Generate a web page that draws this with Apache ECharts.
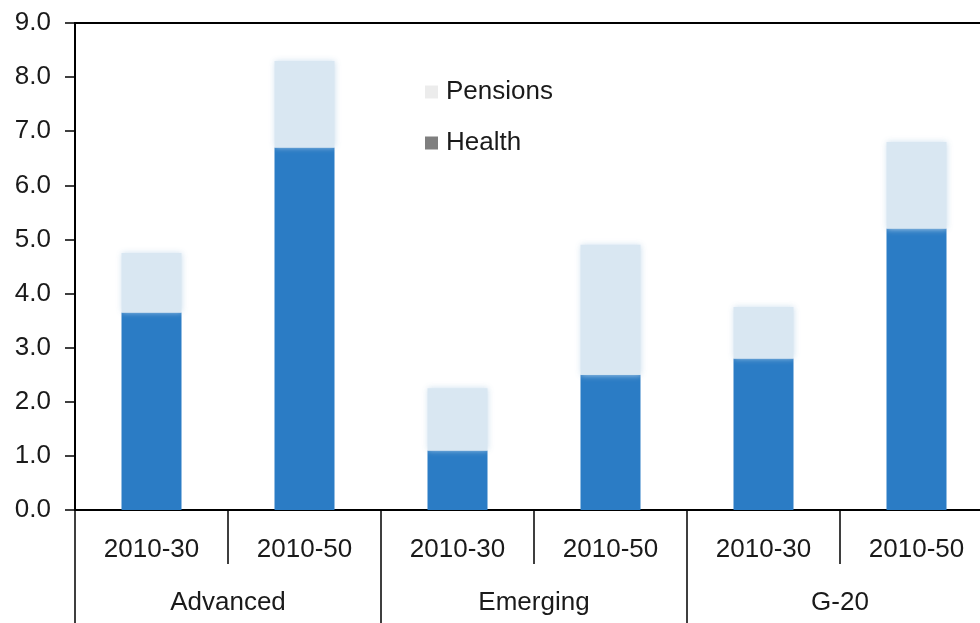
<!DOCTYPE html>
<html>
<head>
<meta charset="utf-8">
<script src="https://cdn.jsdelivr.net/npm/echarts@6/dist/echarts.min.js"></script>
<style>
  html, body { margin: 0; padding: 0; background: #ffffff; }
  #chart { width: 980px; height: 623px; }
</style>
</head>
<body>
<div id="chart"></div>
<script>
// Projected increase in health and pension spending, by period and country group
var periods = ['2010-30', '2010-50', '2010-30', '2010-50', '2010-30', '2010-50'];
var groups = ['Advanced', 'Emerging', 'G-20'];
var health = [3.65, 6.7, 1.1, 2.5, 2.8, 5.2];
var pensions = [1.1, 1.6, 1.15, 2.4, 0.95, 1.6];
var yTicks = { min: 0, max: 9, interval: 1 };

var FONT = '"Liberation Sans", Arial, sans-serif';
var TEXT = '#1a1a1a';
var HEALTH_COLOR = '#2b7cc5';
var PENSION_COLOR = '#d9e7f2';

var chart = echarts.init(document.getElementById('chart'), null, { renderer: 'canvas' });

chart.setOption({
  backgroundColor: '#ffffff',
  animation: false,
  textStyle: { fontFamily: FONT, color: TEXT },
  grid: {
    left: 75, top: 23, width: 918, height: 487,
    outerBoundsMode: 'none',
    containLabel: false,
    show: true, borderColor: '#000', borderWidth: 2, backgroundColor: 'transparent'
  },
  legend: {
    orient: 'vertical',
    left: 420, top: 74,
    itemWidth: 13, itemHeight: 13, itemGap: 25,
    icon: 'rect',
    textStyle: { fontFamily: FONT, fontSize: 26, color: TEXT, padding: [0, 0, 0, 3] },
    data: [
      { name: 'Pensions', itemStyle: { color: '#ececec' } },
      { name: 'Health', itemStyle: { color: '#7f7f7f' } }
    ]
  },
  xAxis: [
    {
      type: 'category',
      data: periods,
      position: 'bottom',
      axisLine: { show: true, lineStyle: { color: '#000', width: 2 } },
      axisTick: { show: true, length: 54, lineStyle: { color: '#000', width: 1.5 } },
      axisLabel: { margin: 27, fontSize: 26, color: TEXT, fontFamily: FONT, interval: 0 }
    },
    {
      type: 'category',
      data: groups,
      position: 'bottom',
      axisLine: { show: false },
      axisTick: { show: true, length: 116, lineStyle: { color: '#000', width: 1.5 } },
      axisLabel: { margin: 80, fontSize: 26, color: TEXT, fontFamily: FONT, interval: 0 }
    }
  ],
  yAxis: {
    type: 'value',
    min: yTicks.min, max: yTicks.max, interval: yTicks.interval,
    axisLine: { show: true, lineStyle: { color: '#000', width: 2 } },
    axisTick: { show: true, length: 10, lineStyle: { color: '#000', width: 1.5 } },
    splitLine: { show: false },
    axisLabel: {
      margin: 24, fontSize: 26, color: TEXT, fontFamily: FONT,
      formatter: function (v) { return v.toFixed(1); }
    }
  },
  series: [
    {
      name: 'Health',
      type: 'bar',
      stack: 'total',
      xAxisIndex: 0,
      barWidth: 60,
      data: health,
      itemStyle: { color: HEALTH_COLOR }
    },
    {
      name: 'Pensions',
      type: 'bar',
      stack: 'total',
      xAxisIndex: 0,
      barWidth: 60,
      data: pensions,
      itemStyle: { color: PENSION_COLOR, shadowBlur: 6, shadowColor: 'rgba(200,220,236,0.9)' }
    }
  ]
});
</script>
</body>
</html>
